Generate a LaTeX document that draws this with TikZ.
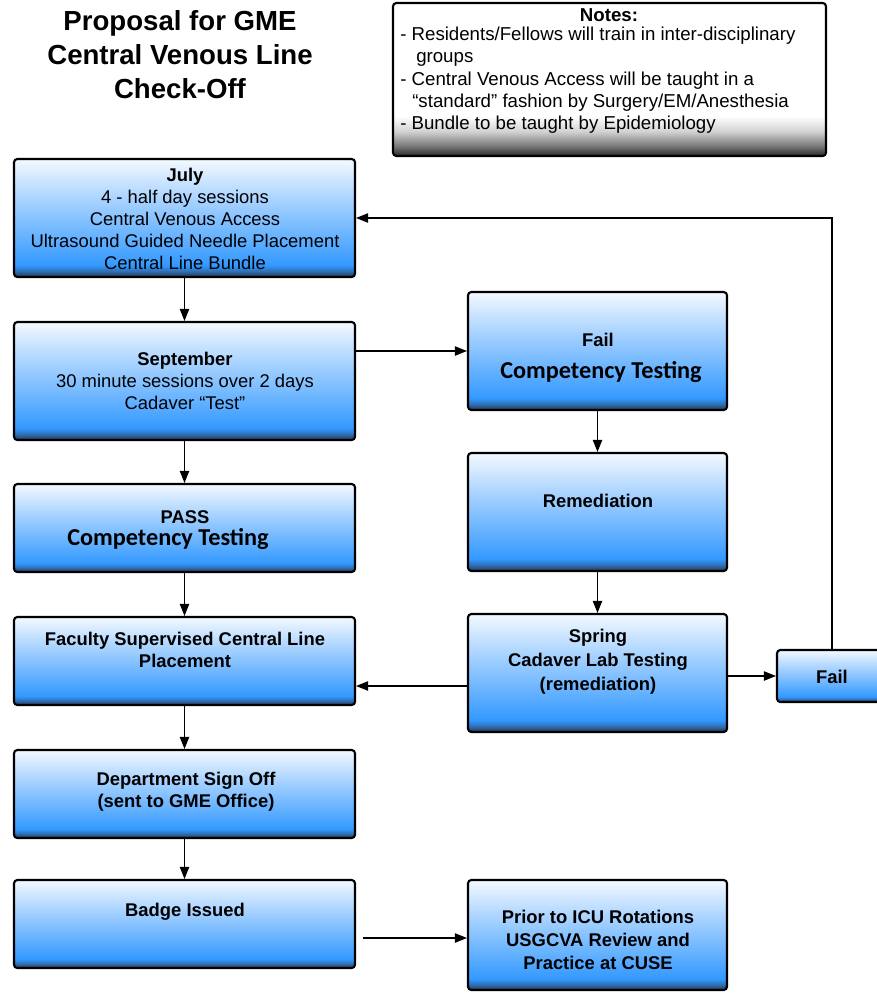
\documentclass[tikz,border=0pt]{standalone}
\usepackage{fontspec}
\setmainfont{Liberation Sans}
\newfontfamily\calfont{Carlito}
\usetikzlibrary{arrows.meta,fit,calc}
\definecolor{bdark}{HTML}{263648}
\definecolor{bmid}{HTML}{2F6FB5}
\definecolor{bblue}{HTML}{3399FF}
\definecolor{bblue2}{HTML}{66B2FF}
\definecolor{blight}{HTML}{A9D3FF}
\definecolor{bwhite}{HTML}{F4F9FF}
\pgfdeclareverticalshading{boxshade}{100bp}{color(0bp)=(bdark); color(25bp)=(bdark); color(27.5bp)=(bmid); color(30bp)=(bblue); color(42bp)=(bblue2); color(58bp)=(blight); color(75bp)=(bwhite); color(100bp)=(bwhite)}
\pgfdeclareverticalshading{noteshade}{100bp}{color(0bp)=(black!85); color(25bp)=(black!85); color(28bp)=(black!55); color(33bp)=(black!18); color(38bp)=(white); color(75bp)=(white); color(100bp)=(white)}
\begin{document}
\begin{tikzpicture}[x=0.75pt,y=-0.75pt,
  box/.style={draw=black, line width=1.6pt, rounded corners=2.5pt, shading=boxshade, inner sep=0pt},
  nbox/.style={draw=black, line width=1.6pt, rounded corners=2.5pt, shading=noteshade, inner sep=0pt},
  lbl/.style={align=center, font=\fontsize{13.8}{16.5}\selectfont, inner sep=0pt},
  blbl/.style={align=center, font=\fontsize{13.8}{16.8}\selectfont\bfseries, inner sep=0pt},
  ctl/.style={font=\fontsize{18.2}{20}\selectfont\calfont\bfseries},
  nl/.style={anchor=west, font=\fontsize{14}{16}\selectfont, inner sep=0pt},
  arr/.style={line width=0.9pt, -{Triangle[length=9pt,width=7pt]}}]
\useasboundingbox (0,0) rectangle (876,996);

% title
\node[align=center, font=\fontsize{20.7}{25.5}\selectfont\bfseries, inner sep=0pt] (title) at (180,55) {Proposal for GME\\Central Venous Line\\Check-Off};

% notes
\node[nbox, fit={(393,3)(826,156)}] (notes) {};
\node[font=\fontsize{14}{16}\selectfont\bfseries, inner sep=0pt] (nh) at (609,15) {Notes:};
\node[nl] (n1) at (400,36) {- Residents/Fellows will train in inter-disciplinary};
\node[nl] (n2) at (416,59) {groups};
\node[nl] (n3) at (400,81) {- Central Venous Access will be taught in a};
\node[nl] (n4) at (412,103) {“standard” fashion by Surgery/EM/Anesthesia};
\node[nl] (n5) at (400,125) {- Bundle to be taught by Epidemiology};

% left column
\node[box, fit={(14,159)(355,277)}] (july) {};
\node[lbl] (julyt) at (185,219) {\textbf{July}\\4 - half day sessions\\Central Venous Access\\Ultrasound Guided Needle Placement\\Central Line Bundle};

\node[box, fit={(14,322)(355,440)}] (sept) {};
\node[lbl] (septt) at (185,381) {\textbf{September}\\30 minute sessions over 2 days\\Cadaver “Test”};

\node[box, fit={(14,484)(355,572)}] (pass) {};
\node[blbl] (passt) at (185,517) {PASS};
\node[ctl] (passct) at (168,539) {Competency Testing};

\node[box, fit={(14,617)(355,705)}] (fac) {};
\node[blbl] (fact) at (185,650) {Faculty Supervised Central Line\\Placement};

\node[box, fit={(14,750)(355,838)}] (dept) {};
\node[blbl] (deptt) at (186,792) {Department Sign Off\\(sent to GME Office)};

\node[box, fit={(14,880)(355,968)}] (badge) {};
\node[blbl] (badget) at (185,912) {Badge Issued};

% right column
\node[box, fit={(468,292)(727,410)}] (failct) {};
\node[blbl] (failctt) at (598,340) {Fail};
\node[ctl] (failctc) at (601,372) {Competency Testing};

\node[box, fit={(468,453)(727,571)}] (rem) {};
\node[blbl] (remt) at (598,501) {Remediation};

\node[box, fit={(468,614)(727,732)}] (spring) {};
\node[align=center, font=\fontsize{13.8}{18}\selectfont\bfseries, inner sep=0pt] (springt) at (598,662) {Spring\\Cadaver Lab Testing\\(remediation)};

\node[box, fit={(777,650)(887,702)}] (failsm) {};
\node[blbl] (failsmt) at (832,677) {Fail};

\node[box, fit={(468,880)(727,990)}] (prior) {};
\node[align=center, font=\fontsize{13.8}{17.5}\selectfont\bfseries, inner sep=0pt] (priort) at (598,940) {Prior to ICU Rotations\\USGCVA Review and\\Practice at CUSE};

% connectors
\draw[arr] (july.south) -- (sept.north);
\draw[arr] (sept.south) -- (pass.north);
\draw[arr] (pass.south) -- (fac.north);
\draw[arr] (fac.south) -- (dept.north);
\draw[arr] (dept.south) -- (badge.north);
\draw[arr] (sept.east |- failct.west) -- (failct.west);
\draw[arr] (failct.south) -- (rem.north);
\draw[arr] (rem.south) -- (spring.north);
\draw[arr] ($(spring.west)+(0,13)$) -- (fac.east |- {$(spring.west)+(0,13)$});
\draw[arr] (spring.east |- failsm.west) -- (failsm.west);
\draw[arr] (failsm.north) |- (july.east);
\coordinate (bstart) at ($(badge.east)+(7,14)$);
\draw[arr] (bstart) -- (prior.west |- bstart);
\end{tikzpicture}
\end{document}
